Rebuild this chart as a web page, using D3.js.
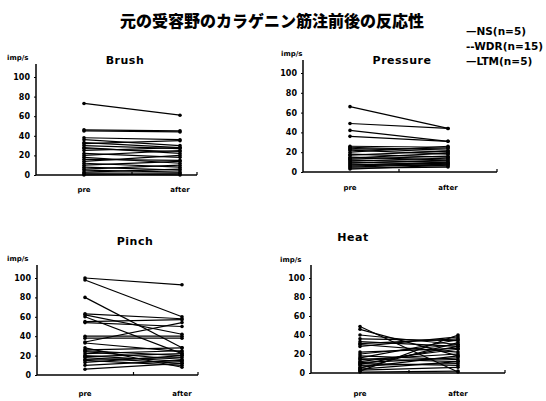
<!DOCTYPE html>
<html lang="ja">
<head>
<meta charset="UTF-8">
<title>カラゲニン筋注前後の反応性</title>
<script src="https://d3js.org/d3.v7.min.js"></script>
<style>
  body { margin: 0; background: #fff; }
  svg { display: block; font-family: "DejaVu Sans", sans-serif; font-weight: bold; }
  .title { font-family: "Noto Sans CJK JP", sans-serif; font-weight: 900; }
  .tick text { font-size: 8px; font-weight: bold; font-family: "DejaVu Sans", sans-serif; }
  .tick line { stroke: #000; }
  .domain { display: none; }
</style>
</head>
<body>
<svg width="546" height="401"></svg>
<script>
// data
const phases = ["pre", "after"];
const yTicks = [0, 20, 40, 60, 80, 100];
const legendLabels = ["\u2014NS(n=5)", "--WDR(n=15)", "\u2014LTM(n=5)"];

const brushPre   = [73, 46, 45, 38, 36, 33, 30, 28, 25, 22, 20, 18, 16, 14, 12, 10, 8, 6, 5, 3, 2, 1, 0, 27, 32];
const brushAfter = [61, 45, 44, 36, 30, 28, 27, 22, 28, 18, 25, 12, 15, 20, 8, 14, 5, 10, 3, 6, 2, 0, 1, 24, 35];

const pressurePre   = [66, 49, 42, 36, 26, 25, 23, 22, 20, 18, 17, 15, 14, 12, 11, 10, 9, 8, 7, 6, 5, 4, 3, 24, 13];
const pressureAfter = [44, 44, 31, 31, 25, 22, 24, 18, 26, 15, 21, 12, 19, 10, 14, 8, 12, 6, 10, 9, 8, 5, 7, 20, 16];

const pinchPre   = [100, 98, 80, 63, 62, 60, 55, 54, 40, 38, 34, 33, 26, 25, 24, 22, 20, 19, 18, 16, 15, 13, 10, 6, 28];
const pinchAfter = [93, 60, 28, 58, 42, 22, 57, 50, 40, 38, 54, 24, 28, 20, 16, 25, 14, 22, 12, 18, 10, 20, 15, 12, 8];

const heatPre   = [49, 46, 40, 36, 33, 31, 30, 28, 22, 20, 18, 16, 15, 14, 12, 11, 10, 9, 8, 6, 5, 4, 3, 2, 1];
const heatAfter = [1, 18, 30, 34, 28, 36, 22, 38, 26, 30, 14, 35, 12, 20, 25, 16, 8, 28, 10, 18, 32, 12, 6, 40, 2];

// layout of the four panels
const panels = [
  { title: "Brush",    pre: brushPre,    after: brushAfter,    ax: 36,  top: 77,  bottom: 175, px: 84,  qx: 180, end: 197, tx: 125, ty: 64,  ux: 7,   uy: 60,  ly: 192 },
  { title: "Pressure", pre: pressurePre, after: pressureAfter, ax: 303, top: 73,  bottom: 172, px: 350, qx: 448, end: 497, tx: 402, ty: 64,  ux: 281, uy: 56,  ly: 190 },
  { title: "Pinch",    pre: pinchPre,    after: pinchAfter,    ax: 37,  top: 278, bottom: 375, px: 85,  qx: 182, end: 198, tx: 135, ty: 245, ux: 7,   uy: 261, ly: 396 },
  { title: "Heat",     pre: heatPre,     after: heatAfter,     ax: 311, top: 278, bottom: 373, px: 360, qx: 458, end: 505, tx: 353, ty: 241, ux: 280, uy: 262, ly: 396 }
];

const svg = d3.select("svg");

svg.append("text")
  .attr("class", "title")
  .attr("x", 272).attr("y", 27)
  .attr("text-anchor", "middle")
  .attr("font-size", 16)
  .text("元の受容野のカラゲニン筋注前後の反応性");

svg.append("g").selectAll("text")
  .data(legendLabels)
  .enter().append("text")
  .attr("x", 466)
  .attr("y", (d, i) => 35 + i * 15)
  .attr("font-size", 10.5)
  .text(d => d);

panels.forEach(p => {
  const x = d3.scalePoint().domain(phases).range([p.px, p.qx]);
  const y = d3.scaleLinear().domain([0, 100]).range([p.bottom, p.top]);
  const g = svg.append("g");

  g.append("text")
    .attr("x", p.tx).attr("y", p.ty)
    .attr("text-anchor", "middle")
    .attr("font-size", 11)
    .attr("letter-spacing", 0.5)
    .text(p.title);

  g.append("text")
    .attr("x", p.ux).attr("y", p.uy)
    .attr("font-size", 7)
    .text("imp/s");

  g.append("g")
    .attr("transform", `translate(${p.ax},0)`)
    .call(d3.axisLeft(y).tickValues(yTicks).tickSize(2).tickPadding(4));

  // axis lines
  g.append("line")
    .attr("x1", p.ax).attr("x2", p.ax)
    .attr("y1", y(0)).attr("y2", y(100) - 13)
    .attr("stroke", "#000").attr("stroke-width", 1.5);
  g.append("line")
    .attr("x1", p.ax).attr("x2", p.end)
    .attr("y1", y(0)).attr("y2", y(0))
    .attr("stroke", "#000").attr("stroke-width", 1.5);
  g.append("line")
    .attr("x1", p.end).attr("x2", p.end)
    .attr("y1", y(0)).attr("y2", y(0) - 3)
    .attr("stroke", "#000").attr("stroke-width", 1.2);
  g.append("line")
    .attr("x1", (p.px + p.qx) / 2).attr("x2", (p.px + p.qx) / 2)
    .attr("y1", y(0)).attr("y2", y(0) - 3)
    .attr("stroke", "#000").attr("stroke-width", 1.2);

  g.append("g").selectAll("text")
    .data(phases)
    .enter().append("text")
    .attr("x", d => x(d))
    .attr("y", p.ly)
    .attr("text-anchor", "middle")
    .attr("font-size", 7)
    .text(d => d);

  const pairs = p.pre.map((v, i) => [v, p.after[i]]);

  g.append("g").selectAll("line")
    .data(pairs)
    .enter().append("line")
    .attr("x1", x("pre")).attr("x2", x("after"))
    .attr("y1", d => y(d[0])).attr("y2", d => y(d[1]))
    .attr("stroke", "#000").attr("stroke-width", 1.2);

  g.append("g").selectAll("circle")
    .data(pairs.flatMap(d => [["pre", d[0]], ["after", d[1]]]))
    .enter().append("circle")
    .attr("cx", d => x(d[0])).attr("cy", d => y(d[1]))
    .attr("r", 1.8)
    .attr("fill", "#000");
});
</script>
</body>
</html>
